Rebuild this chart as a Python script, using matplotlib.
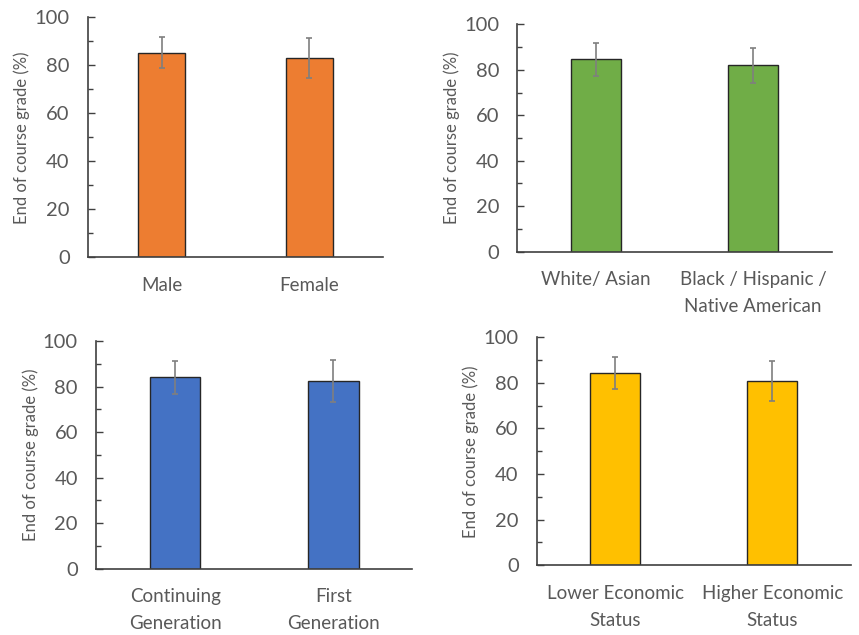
import matplotlib
matplotlib.use("Agg")
import matplotlib.pyplot as plt
from matplotlib.ticker import MultipleLocator

plt.rcParams["font.family"] = ["Lato", "DejaVu Sans"]

# mean end-of-course grade and error for each student group
sex_groups = ["Male", "Female"]
sex_means = [85.3, 83.0]
sex_err = [6.6, 8.4]

race_groups = ["White/ Asian", "Black / Hispanic /\nNative American"]
race_means = [84.6, 82.0]
race_err = [7.4, 7.6]

gen_groups = ["Continuing\nGeneration", "First\nGeneration"]
gen_means = [84.1, 82.4]
gen_err = [7.2, 9.2]

econ_groups = ["Lower Economic\nStatus", "Higher Economic\nStatus"]
econ_means = [84.3, 80.7]
econ_err = [6.9, 8.7]

TEXT = "#595959"
AXIS = "#404040"

fig = plt.figure(figsize=(8.59, 6.35), dpi=100)

panels = [
    # (rect, labels, means, errs, colour)
    ([0.1021, 0.5948, 0.3438, 0.3780], sex_groups, sex_means, sex_err, "#ED7D31"),
    ([0.6022, 0.6036, 0.3660, 0.3581], race_groups, race_means, race_err, "#70AD47"),
    ([0.1118, 0.1044, 0.3682, 0.3586], gen_groups, gen_means, gen_err, "#4472C4"),
    ([0.6248, 0.1098, 0.3655, 0.3590], econ_groups, econ_means, econ_err, "#FFC000"),
]

for rect, labels, means, errs, colour in panels:
    ax = fig.add_axes(rect)
    x = range(len(labels))
    ax.bar(x, means, width=0.32, color=colour, edgecolor="#262626", linewidth=1.0,
           yerr=errs, error_kw=dict(ecolor="#7f7f7f", elinewidth=1.2, capsize=2.5, capthick=1.2))

    ax.set_xlim(-0.5, 1.5)
    ax.set_ylim(0, 100)
    ax.yaxis.set_major_locator(MultipleLocator(20))
    ax.yaxis.set_minor_locator(MultipleLocator(10))

    ax.set_xticks(list(x))
    ax.set_xticklabels(labels, fontsize=13.5, color=TEXT, linespacing=1.7)
    ax.tick_params(axis="x", length=0, pad=14)
    ax.tick_params(axis="y", which="major", direction="in", length=5, width=1,
                   color=AXIS, labelsize=14.5, labelcolor=TEXT, pad=13)
    ax.tick_params(axis="y", which="minor", direction="in", length=3.5, width=1, color=AXIS)

    for side in ("top", "right"):
        ax.spines[side].set_visible(False)
    for side in ("left", "bottom"):
        ax.spines[side].set_color(AXIS)
        ax.spines[side].set_linewidth(1.2)

    ax.set_ylabel("End of course grade (%)", fontsize=12, color=TEXT, labelpad=3)

fig.savefig("out.png", dpi=100)
